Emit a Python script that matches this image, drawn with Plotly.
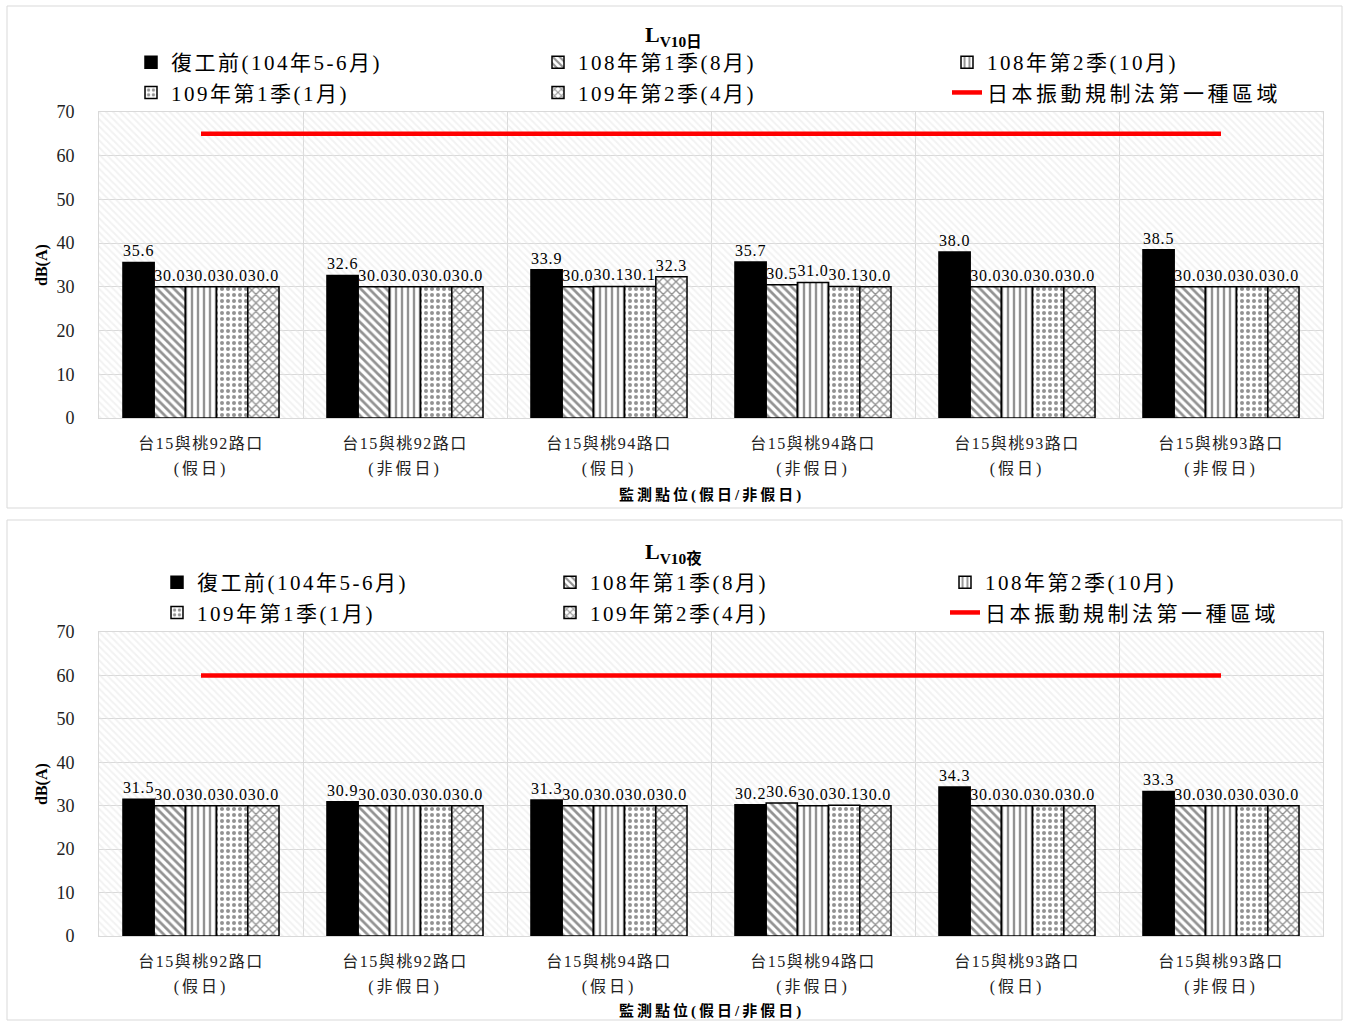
import plotly.graph_objects as go

W, H = 1346, 1023
SERIF = "Liberation Serif, 'Noto Sans CJK TC', serif"

# ---- data -------------------------------------------------------------
sites = ["台15與桃92路口", "台15與桃92路口", "台15與桃94路口",
         "台15與桃94路口", "台15與桃93路口", "台15與桃93路口"]
day_types = ["(假日)", "(非假日)", "(假日)", "(非假日)", "(假日)", "(非假日)"]

series_names = ["復工前(104年5-6月)", "108年第1季(8月)", "108年第2季(10月)",
                "109年第1季(1月)", "109年第2季(4月)"]
limit_name = "日本振動規制法第一種區域"

# daytime LV10
day_pre = [35.6, 32.6, 33.9, 35.7, 38.0, 38.5]
day_108q1 = [30.0, 30.0, 30.0, 30.5, 30.0, 30.0]
day_108q2 = [30.0, 30.0, 30.1, 31.0, 30.0, 30.0]
day_109q1 = [30.0, 30.0, 30.1, 30.1, 30.0, 30.0]
day_109q2 = [30.0, 30.0, 32.3, 30.0, 30.0, 30.0]
day_limit = 65

# nighttime LV10
night_pre = [31.5, 30.9, 31.3, 30.2, 34.3, 33.3]
night_108q1 = [30.0, 30.0, 30.0, 30.6, 30.0, 30.0]
night_108q2 = [30.0, 30.0, 30.0, 30.0, 30.0, 30.0]
night_109q1 = [30.0, 30.0, 30.0, 30.1, 30.0, 30.0]
night_109q2 = [30.0, 30.0, 30.0, 30.0, 30.0, 30.0]
night_limit = 60

y_ticks = [0, 10, 20, 30, 40, 50, 60, 70]
chart_titles = ["<b>L<sub>V10日</sub></b>", "<b>L<sub>V10夜</sub></b>"]
y_title = "dB(A)"
x_title = "監測點位(假日/非假日)"


# ---- helpers -------------------------------------------------------------
def px(x):
    return x / W


def py(y):
    return 1 - y / H


def spaced(text, gap):
    """Wrap text in a span with extra letter spacing."""
    return f'<span style="letter-spacing:{gap}px">{text}</span>'


n_cat = len(sites)
n_series = len(series_names)
xs = list(range(n_cat))
x_range = [-0.5, n_cat - 0.5]
y_range = [y_ticks[0], y_ticks[-1]]

# clustered bars laid out by hand (overlay mode keeps the hatched
# background bar underneath every series)
group_frac = 0.765
bar_w = group_frac / n_series
bar_offsets = [-group_frac / 2 + i * bar_w for i in range(n_series)]

PAT_FG = "#262626"
bar_styles = [
    dict(color="black"),
    dict(color="white", pattern=dict(shape="\\", fgcolor=PAT_FG, bgcolor="white",
                                     size=6, solidity=0.45, fillmode="overlay")),
    dict(color="white", pattern=dict(shape="|", fgcolor=PAT_FG, bgcolor="white",
                                     size=6, solidity=0.4, fillmode="overlay")),
    dict(color="white", pattern=dict(shape=".", fgcolor=PAT_FG, bgcolor="white",
                                     size=6, solidity=0.35, fillmode="overlay")),
    dict(color="white", pattern=dict(shape="x", fgcolor=PAT_FG, bgcolor="white",
                                     size=6, solidity=0.4, fillmode="overlay")),
]

charts = [
    dict(values=[day_pre, day_108q1, day_108q2, day_109q1, day_109q2], limit=day_limit,
         xa="x", ya="y", legends=["legend", "legend2", "legend3"],
         frame=(7, 6, 1342, 508), plot=(99, 112, 1323, 418),
         legend_x=[131, 538, 947], legend_top=42,
         title=(673, 36), xtitle_y=495),
    dict(values=[night_pre, night_108q1, night_108q2, night_109q1, night_109q2],
         limit=night_limit,
         xa="x2", ya="y2", legends=["legend4", "legend5", "legend6"],
         frame=(7, 520, 1342, 1020), plot=(99, 632, 1323, 936),
         legend_x=[157, 550, 945], legend_top=562,
         title=(673, 553), xtitle_y=1011),
]

fig = go.Figure()
annotations = []
shapes = []
layout_axes = {}
legend_cfg = {}

for ci, ch in enumerate(charts):
    # hatched plot-area background
    fig.add_trace(go.Bar(
        x=[(x_range[0] + x_range[1]) / 2], y=[y_range[1] - y_range[0]], base=y_range[0],
        width=x_range[1] - x_range[0],
        marker=dict(color="rgba(0,0,0,0)", line=dict(width=0),
                    pattern=dict(shape="\\", fgcolor="#e6e6e6", bgcolor="rgba(0,0,0,0)",
                                 size=5, solidity=0.4, fillmode="overlay")),
        showlegend=False, hoverinfo="skip", xaxis=ch["xa"], yaxis=ch["ya"]))

    col_of_series = [0, 1, 2, 0, 1]
    for si, vals in enumerate(ch["values"]):
        fig.add_trace(go.Bar(
            x=xs, y=vals, name=spaced(series_names[si], 2.5),
            width=bar_w, offset=bar_offsets[si],
            marker=dict(line=dict(color="black", width=1.5), **bar_styles[si]),
            text=[spaced(f"{v:.1f}", 0.8) for v in vals], textposition="outside",
            textangle=0, constraintext="none", cliponaxis=False,
            textfont=dict(size=16, color="black", family=SERIF),
            xaxis=ch["xa"], yaxis=ch["ya"], legend=ch["legends"][col_of_series[si]],
            hoverinfo="skip"))

    fig.add_trace(go.Scatter(
        x=xs, y=[ch["limit"]] * n_cat, mode="lines", name=spaced(limit_name, 3.5),
        line=dict(color="#ff0000", width=4.5),
        xaxis=ch["xa"], yaxis=ch["ya"], legend=ch["legends"][2], hoverinfo="skip"))

    x0, y0, x1, y1 = ch["plot"]
    xkey = "xaxis" if ci == 0 else "xaxis2"
    ykey = "yaxis" if ci == 0 else "yaxis2"
    layout_axes[xkey] = dict(
        domain=[px(x0), px(x1)], range=x_range, anchor=ch["ya"],
        tickmode="array", tickvals=xs,
        ticktext=[f'<span style="font-size:16px;letter-spacing:1.5px">{s}</span><br>'
                  f'<span style="font-size:16px;letter-spacing:3px">{d}</span>'
                  for s, d in zip(sites, day_types)],
        tickfont=dict(size=19, family=SERIF, color="#222"),
        showgrid=False, zeroline=False, ticks="",
        minor=dict(tickvals=[i + 0.5 for i in range(n_cat - 1)], showgrid=True,
                   gridcolor="#d9d9d9", gridwidth=1, ticks=""),
        showline=True, linecolor="#d9d9d9", linewidth=1, mirror=True,
        ticklabelstandoff=7, fixedrange=True)
    layout_axes[ykey] = dict(
        domain=[py(y1), py(y0)], range=y_range, anchor=ch["xa"],
        tickmode="array", tickvals=y_ticks,
        tickfont=dict(size=18, family=SERIF, color="#222"),
        showgrid=True, gridcolor="#d9d9d9", gridwidth=1, zeroline=False, ticks="",
        showline=True, linecolor="#d9d9d9", linewidth=1, mirror=True,
        ticklabelstandoff=20, fixedrange=True)

    fx0, fy0, fx1, fy1 = ch["frame"]
    shapes.append(dict(type="rect", xref="paper", yref="paper",
                       x0=px(fx0), x1=px(fx1), y0=py(fy1), y1=py(fy0),
                       line=dict(color="#d9d9d9", width=1), layer="below"))

    tx, ty = ch["title"]
    annotations.append(dict(text=chart_titles[ci], x=px(tx), y=py(ty), xref="paper",
                            yref="paper", xanchor="center", yanchor="middle",
                            showarrow=False, font=dict(size=22, family=SERIF, color="black")))
    annotations.append(dict(text=f"<b>{y_title}</b>", x=px(42), y=py((y0 + y1) / 2),
                            xref="paper", yref="paper", xanchor="center", yanchor="middle",
                            textangle=-90, showarrow=False,
                            font=dict(size=16, family=SERIF, color="black")))
    annotations.append(dict(text=f"<b>{spaced(x_title, 3)}</b>", x=px((x0 + x1) / 2),
                            y=py(ch["xtitle_y"]), xref="paper", yref="paper",
                            xanchor="center", yanchor="middle", showarrow=False,
                            font=dict(size=15, family=SERIF, color="black")))

    for li, lname in enumerate(ch["legends"]):
        legend_cfg[lname] = dict(
            x=px(ch["legend_x"][li]), y=py(ch["legend_top"]), xanchor="left",
            yanchor="top", orientation="v", bgcolor="rgba(0,0,0,0)",
            borderwidth=0, tracegroupgap=0, traceorder="normal",
            font=dict(size=21, family=SERIF, color="black"))

fig.update_layout(
    width=W, height=H, template="none",
    margin=dict(l=0, r=0, t=0, b=0),
    paper_bgcolor="white", plot_bgcolor="white",
    barmode="overlay",
    font=dict(family=SERIF, color="black"),
    annotations=annotations, shapes=shapes,
    **layout_axes, **legend_cfg)

fig.write_html("out.html")
